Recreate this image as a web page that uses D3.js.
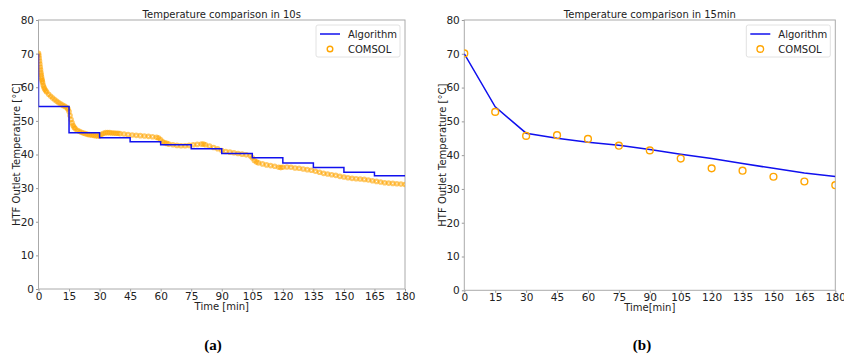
<!DOCTYPE html>
<html>
<head>
<meta charset="utf-8">
<script src="https://cdn.jsdelivr.net/npm/d3@7"></script>
<style>
  body { margin: 0; background: #fff; }
  svg { display: block; font-family: "DejaVu Sans", sans-serif; }
</style>
</head>
<body>
<div id="chart"></div>
<script>
// ticks
var xTicks = [0, 15, 30, 45, 60, 75, 90, 105, 120, 135, 150, 165, 180];
var yTicks = [0, 10, 20, 30, 40, 50, 60, 70, 80];

// 15 min samples
var times15 = [0, 15, 30, 45, 60, 75, 90, 105, 120, 135, 150, 165, 180];
var algorithm = [70.0, 54.3, 46.5, 45.0, 43.8, 42.9, 41.7, 40.3, 39.0, 37.5, 36.1, 34.7, 33.7];
var comsol15 = [70.1, 52.8, 45.7, 45.9, 44.8, 42.8, 41.4, 39.0, 36.1, 35.4, 33.6, 32.2, 31.1];

// COMSOL fine output
var comsolFineT = [0, 0.17, 0.33, 0.5, 0.67, 0.83, 1, 1.17, 1.33, 1.5, 1.67, 1.83, 2, 2.33, 2.67, 3, 3.5, 4,
    5, 6, 7, 8, 9, 10, 11, 12, 13, 14, 14.5, 15, 15.5, 16, 16.5, 17, 17.5, 18, 19, 20,
    21, 22, 23, 24, 25, 26, 27, 28, 29, 30, 31, 32, 33, 34, 35, 36, 37, 38, 39, 40,
    42, 44, 46, 48, 50, 52, 54, 56, 58, 59, 60, 61, 62, 63, 64, 66, 68, 70,
    72, 74, 76, 78, 80, 81, 82, 84, 86, 88, 90, 92, 94, 96, 98, 100, 102, 104,
    105, 106, 107, 108, 110, 112, 114, 116, 118, 119, 120, 122, 124, 126, 128, 130,
    132, 134, 136, 138, 140, 142, 144, 146, 148, 150, 152, 154, 156, 158, 160,
    162, 164, 166, 168, 170, 172, 174, 176, 178, 180];
var comsolFineV = [70.1, 69.5, 68.7, 67.8, 66.9, 66.0, 65.2, 64.4, 63.7, 63.0, 62.4, 61.9, 61.4, 60.6, 60.0, 59.5, 59.0, 58.6,
    57.9, 57.3, 56.8, 56.3, 55.8, 55.4, 55.0, 54.6, 54.3, 53.9, 53.5, 52.8, 51.6, 50.4, 49.4, 48.6, 48.1, 47.7, 47.2, 46.9,
    46.6, 46.4, 46.2, 46.0, 45.9, 45.8, 45.7, 45.6, 45.5, 45.6, 46.0, 46.3, 46.5, 46.5, 46.5, 46.4, 46.4, 46.3, 46.3, 46.2,
    46.1, 45.9, 45.8, 45.7, 45.6, 45.5, 45.4, 45.3, 45.1, 44.9, 44.4, 43.8, 43.5, 43.3, 43.1, 42.9, 42.7, 42.6,
    42.6, 42.7, 42.9, 43.0, 43.1, 43.1, 42.9, 42.5, 42.1, 41.7, 41.2, 40.9, 40.7, 40.5, 40.3, 40.1, 39.9, 39.6,
    39.0, 38.2, 37.8, 37.5, 37.2, 36.9, 36.7, 36.5, 36.2, 36.1, 36.2, 36.3, 36.2, 36.0, 35.9, 35.7,
    35.5, 35.3, 35.0, 34.7, 34.4, 34.2, 34.0, 33.8, 33.5, 33.3, 33.1, 32.9, 32.8, 32.7, 32.6,
    32.4, 32.2, 32.0, 31.8, 31.6, 31.5, 31.4, 31.3, 31.2, 31.1];

var svg = d3.select("#chart")
    .append("svg")
    .attr("width", 844)
    .attr("height", 358);

var blue = "#1010ee";
var orange = "#ffa500";

function drawPanel(opts) {
    var left = opts.left, top = opts.top, w = opts.width, h = opts.height;
    var g = svg.append("g")
        .attr("transform", "translate(" + left + "," + top + ")");

    var x = d3.scaleLinear().domain([0, 180]).range([0, w]);
    var y = d3.scaleLinear().domain([0, 80]).range([h, 0]);

    g.append("clipPath")
        .attr("id", opts.id + "-clip")
        .append("rect")
        .attr("width", w)
        .attr("height", h);

    var xAxis = g.append("g")
        .attr("transform", "translate(0," + h + ")")
        .call(d3.axisBottom(x).tickValues(xTicks).tickSize(2.5).tickPadding(1));
    var yAxis = g.append("g")
        .call(d3.axisLeft(y).tickValues(yTicks).tickSize(2.5).tickPadding(2));

    [xAxis, yAxis].forEach(function (a) {
        a.select(".domain").remove();
        a.selectAll("line").attr("stroke", "#999");
        a.selectAll("text")
            .attr("font-size", "10.5px")
            .attr("font-family", "DejaVu Sans")
            .attr("fill", "#222");
    });

    // frame
    g.append("rect")
        .attr("width", w)
        .attr("height", h)
        .attr("fill", "none")
        .attr("stroke", "#aaa")
        .attr("stroke-width", 1);

    var plot = g.append("g").attr("clip-path", "url(#" + opts.id + "-clip)");
    opts.drawData(plot, x, y);

    g.append("text")
        .attr("x", w / 2)
        .attr("y", -2)
        .attr("text-anchor", "middle")
        .attr("font-size", "10px")
        .attr("fill", "#222")
        .text(opts.title);

    g.append("text")
        .attr("x", w / 2)
        .attr("y", h + 21)
        .attr("text-anchor", "middle")
        .attr("font-size", "10px")
        .attr("fill", "#222")
        .text(opts.xLabel);

    g.append("text")
        .attr("transform", "translate(" + opts.yLabelX + "," + (h / 2) + ") rotate(-90)")
        .attr("text-anchor", "middle")
        .attr("font-size", "10px")
        .attr("fill", "#222")
        .text("HTF Outlet Temperature [°C]");

    // legend
    var lg = g.append("g")
        .attr("transform", "translate(" + (w - opts.legendW - 5) + ",5)");
    lg.append("rect")
        .attr("width", opts.legendW)
        .attr("height", 32)
        .attr("rx", 2)
        .attr("fill", "#fff")
        .attr("stroke", "#e2e2e2");
    lg.append("line")
        .attr("x1", 4).attr("x2", 24)
        .attr("y1", 9).attr("y2", 9)
        .attr("stroke", blue)
        .attr("stroke-width", 1.5);
    lg.append("circle")
        .attr("cx", 14).attr("cy", 24)
        .attr("r", opts.legendR)
        .attr("fill", "none")
        .attr("stroke", orange)
        .attr("stroke-width", 1.4);
    lg.append("text")
        .attr("x", 32).attr("y", 12.5)
        .attr("font-size", "10px")
        .attr("fill", "#222")
        .text("Algorithm");
    lg.append("text")
        .attr("x", 32).attr("y", 27.5)
        .attr("font-size", "10px")
        .attr("fill", "#222")
        .text("COMSOL");

    // caption
    svg.append("text")
        .attr("x", opts.captionX)
        .attr("y", 350)
        .attr("text-anchor", "middle")
        .attr("font-family", "Liberation Serif")
        .attr("font-weight", "bold")
        .attr("font-size", "15px")
        .attr("fill", "#000")
        .text(opts.caption);
}

drawPanel({
    id: "pa",
    left: 38.5, top: 20, width: 366.5, height: 269,
    title: "Temperature comparison in 10s",
    xLabel: "Time [min]",
    yLabelX: -18.5,
    legendW: 84,
    legendR: 2.8,
    caption: "(a)",
    captionX: 213,
    drawData: function (plot, x, y) {
        var fine = comsolFineT.map(function (t, i) { return [t, comsolFineV[i]]; });
        plot.selectAll(".fine")
            .data(fine)
            .enter()
            .append("circle")
            .attr("cx", function (d) { return x(d[0]); })
            .attr("cy", function (d) { return y(d[1]); })
            .attr("r", 1.7)
            .attr("fill", "none")
            .attr("stroke", orange)
            .attr("stroke-opacity", 0.6)
            .attr("stroke-width", 2.2);

        var steps = times15.map(function (t, i) { return [t, algorithm[i]]; });
        plot.append("path")
            .datum(steps)
            .attr("fill", "none")
            .attr("stroke", blue)
            .attr("stroke-width", 1.5)
            .attr("d", d3.line()
                .x(function (d) { return x(d[0]); })
                .y(function (d) { return y(d[1]); })
                .curve(d3.curveStepBefore));
    }
});

drawPanel({
    id: "pb",
    left: 464.3, top: 20, width: 371, height: 270.3,
    title: "Temperature comparison in 15min",
    xLabel: "Time[min]",
    yLabelX: -18.5,
    legendW: 84,
    legendR: 3.3,
    caption: "(b)",
    captionX: 642,
    drawData: function (plot, x, y) {
        var pts = times15.map(function (t, i) { return [t, algorithm[i]]; });
        plot.append("path")
            .datum(pts)
            .attr("fill", "none")
            .attr("stroke", blue)
            .attr("stroke-width", 1.5)
            .attr("d", d3.line()
                .x(function (d) { return x(d[0]); })
                .y(function (d) { return y(d[1]); }));

        plot.selectAll(".c15")
            .data(times15.map(function (t, i) { return [t, comsol15[i]]; }))
            .enter()
            .append("circle")
            .attr("cx", function (d) { return x(d[0]); })
            .attr("cy", function (d) { return y(d[1]); })
            .attr("r", 3.4)
            .attr("fill", "none")
            .attr("stroke", orange)
            .attr("stroke-width", 1.4);
    }
});
</script>
</body>
</html>
